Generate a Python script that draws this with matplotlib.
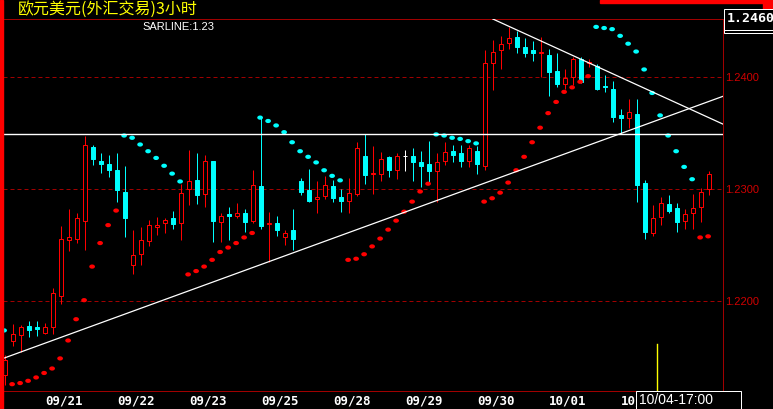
import numpy as np
import matplotlib
matplotlib.use("Agg")
import matplotlib.pyplot as plt
from matplotlib.patches import Rectangle
from matplotlib.lines import Line2D
from matplotlib.path import Path
from matplotlib.transforms import Affine2D, Bbox

# EUR/USD 3-hour bars
opens = [1.2134, 1.2165, 1.2170, 1.2178, 1.2177, 1.2172, 1.2177, 1.2205, 1.2255, 1.2256,
         1.2272, 1.2338, 1.2325, 1.2323, 1.2317, 1.2298, 1.2232, 1.2242, 1.2254, 1.2266,
         1.2270, 1.2274, 1.2270, 1.2300, 1.2308, 1.2296, 1.2325, 1.2271, 1.2278, 1.2276,
         1.2279, 1.2272, 1.2303, 1.2269, 1.2270, 1.2257, 1.2264, 1.2307, 1.2299, 1.2291,
         1.2294, 1.2303, 1.2293, 1.2290, 1.2296, 1.2330, 1.2314, 1.2314, 1.2329, 1.2317,
         1.2330, 1.2330, 1.2324, 1.2323, 1.2316, 1.2325, 1.2334, 1.2332, 1.2325, 1.2334,
         1.2321, 1.2413, 1.2424, 1.2431, 1.2436, 1.2427, 1.2424, 1.2422, 1.2420, 1.2406,
         1.2394, 1.2400, 1.2416, 1.2413, 1.2410, 1.2392, 1.2390, 1.2366, 1.2364, 1.2367,
         1.2306, 1.2261, 1.2275, 1.2287, 1.2283, 1.2272, 1.2279, 1.2284, 1.2300]
highs = [1.2152, 1.2180, 1.2179, 1.2182, 1.2182, 1.2181, 1.2212, 1.2267, 1.2282, 1.2279,
         1.2348, 1.2340, 1.2332, 1.2331, 1.2332, 1.2321, 1.2264, 1.2266, 1.2273, 1.2275,
         1.2274, 1.2281, 1.2305, 1.2335, 1.2332, 1.2331, 1.2325, 1.2279, 1.2284, 1.2288,
         1.2282, 1.2317, 1.2365, 1.2280, 1.2276, 1.2264, 1.2282, 1.2310, 1.2318, 1.2307,
         1.2312, 1.2308, 1.2300, 1.2310, 1.2342, 1.2349, 1.2339, 1.2333, 1.2330, 1.2332,
         1.2335, 1.2337, 1.2334, 1.2343, 1.2332, 1.2342, 1.2340, 1.2340, 1.2340, 1.2339,
         1.2424, 1.2433, 1.2437, 1.2445, 1.2441, 1.2435, 1.2432, 1.2436, 1.2425, 1.2422,
         1.2407, 1.2418, 1.2418, 1.2416, 1.2412, 1.2402, 1.2397, 1.2372, 1.2381, 1.2381,
         1.2308, 1.2286, 1.2293, 1.2295, 1.2288, 1.2282, 1.2296, 1.2301, 1.2316]
lows = [1.2125, 1.2160, 1.2155, 1.2168, 1.2169, 1.2171, 1.2171, 1.2198, 1.2245, 1.2252,
        1.2246, 1.2322, 1.2315, 1.2311, 1.2289, 1.2257, 1.2224, 1.2232, 1.2249, 1.2259,
        1.2261, 1.2265, 1.2255, 1.2286, 1.2287, 1.2284, 1.2253, 1.2253, 1.2255, 1.2274,
        1.2262, 1.2270, 1.2265, 1.2235, 1.2258, 1.2250, 1.2246, 1.2295, 1.2289, 1.2279,
        1.2291, 1.2289, 1.2280, 1.2279, 1.2294, 1.2305, 1.2296, 1.2307, 1.2311, 1.2309,
        1.2316, 1.2307, 1.2302, 1.2306, 1.2289, 1.2322, 1.2324, 1.2320, 1.2320, 1.2314,
        1.2317, 1.2389, 1.2407, 1.2425, 1.2422, 1.2418, 1.2415, 1.2400, 1.2383, 1.2391,
        1.2390, 1.2393, 1.2395, 1.2409, 1.2389, 1.2387, 1.2360, 1.2349, 1.2355, 1.2289,
        1.2256, 1.2258, 1.2268, 1.2279, 1.2262, 1.2265, 1.2265, 1.2271, 1.2295]
closes = [1.2148, 1.2171, 1.2177, 1.2174, 1.2175, 1.2177, 1.2207, 1.2256, 1.2257, 1.2274,
          1.2340, 1.2327, 1.2323, 1.2317, 1.2299, 1.2274, 1.2241, 1.2255, 1.2268, 1.2268,
          1.2273, 1.2269, 1.2297, 1.2307, 1.2295, 1.2325, 1.2272, 1.2276, 1.2276, 1.2279,
          1.2271, 1.2304, 1.2267, 1.2270, 1.2264, 1.2261, 1.2256, 1.2298, 1.2290, 1.2293,
          1.2304, 1.2292, 1.2290, 1.2297, 1.2337, 1.2313, 1.2315, 1.2327, 1.2317, 1.2330,
          1.2330, 1.2324, 1.2321, 1.2316, 1.2324, 1.2333, 1.2331, 1.2325, 1.2337, 1.2323,
          1.2413, 1.2423, 1.2430, 1.2435, 1.2427, 1.2422, 1.2422, 1.2423, 1.2405, 1.2394,
          1.2399, 1.2416, 1.2396, 1.2414, 1.2390, 1.2391, 1.2365, 1.2364, 1.2369, 1.2304,
          1.2262, 1.2274, 1.2288, 1.2281, 1.2271, 1.2278, 1.2283, 1.2298, 1.2314]

# parabolic SAR, one value per bar
sar = [1.2174,
       1.2126, 1.2127, 1.2129, 1.2132, 1.2136, 1.2140, 1.2149, 1.2165, 1.2184, 1.2201, 1.2231,
       1.2252, 1.2268, 1.2281,
       1.2348, 1.2346, 1.2340, 1.2334, 1.2328, 1.2321, 1.2314, 1.2307,
       1.2224, 1.2227, 1.2231, 1.2237, 1.2244, 1.2248, 1.2252, 1.2257, 1.2261,
       1.2364, 1.2361, 1.2357, 1.2351, 1.2342, 1.2334, 1.2329, 1.2324, 1.2317, 1.2312, 1.2308,
       1.2237, 1.2238, 1.2242, 1.2249, 1.2256, 1.2264, 1.2272, 1.2280, 1.2289, 1.2298, 1.2305,
       1.2349, 1.2348, 1.2346, 1.2345, 1.2343, 1.2341,
       1.2289, 1.2292, 1.2297, 1.2306, 1.2317, 1.2329, 1.2342, 1.2355, 1.2368, 1.2378, 1.2387,
       1.2391, 1.2396, 1.2401,
       1.2445, 1.2444, 1.2443, 1.2437, 1.2430, 1.2423, 1.2407, 1.2386, 1.2366, 1.2348, 1.2334,
       1.2320, 1.2309,
       1.2257, 1.2258]

date_ticks = [5, 14, 23, 32, 41, 50, 59, 68, 77]
date_labels = ["09/21", "09/22", "09/23", "09/25", "09/28", "09/29", "09/30", "10/01", "10/02"]
price_ticks = [1.2200, 1.2300, 1.2400]

# hand drawn lines: (bar index, price) anchor pairs
support_line = [(0, 1.21497), (89, 1.23812)]
resist_line = [(62, 1.24486), (89, 1.23605)]
flat_line = 1.2349
cursor_bar = 81.5

title = "欧元美元(外汇交易)3小时"
sar_text = "SARLINE:1.23"
last_price = "1.2460"
cursor_time = "10/04-17:00"

RED = "#FF0000"
DARKRED = "#A00000"
CYAN = "#00FFFF"

W, H = 773, 409
fig = plt.figure(figsize=(W / 100, H / 100), dpi=100, facecolor="black")
ax = fig.add_axes([3 / W, 1 - 391 / H, 720 / W, 372 / H])
ax.set_facecolor("black")

o = np.array(opens)
c = np.array(closes)
x = np.arange(len(o))
up = c > o
down = c < o
edge = np.where(up, RED, np.where(down, CYAN, "white"))
face = np.where(up, "black", np.where(down, CYAN, "white"))

lw = 0.72
ax.vlines(x, lows, highs, colors=edge, linewidth=lw, zorder=2)
ax.bar(x, np.abs(c - o), bottom=np.minimum(o, c), width=0.52,
       color=face, edgecolor=edge, linewidth=lw, zorder=3)

# SAR dots as small flat ellipses
ell = Path.unit_circle().transformed(Affine2D().scale(1.35, 1.0))
s = np.array(sar)
sar_col = np.where(s > c, CYAN, RED)
ax.scatter(x - 0.15, s, s=17, marker=ell, c=sar_col, linewidths=0, zorder=4)

ax.axhline(flat_line, color="white", linewidth=1.0, zorder=5)
ax.axline(*support_line, color="white", linewidth=0.9, zorder=5)
ax.axline(*resist_line, color="white", linewidth=0.9, zorder=5)
ax.axvline(cursor_bar, ymin=0, ymax=47 / 372, color="#FFFF00", linewidth=1.0, zorder=5)

ax.set_xlim(-0.2875, 89.71)
ax.set_ylim(1.2119911, 1.2452054)

ax.yaxis.tick_right()
ax.set_yticks(price_ticks, [f"{v:.4f}" for v in price_ticks])
ax.yaxis.grid(True, color=DARKRED, linestyle=(0, (4, 3)), linewidth=lw)
ax.tick_params(axis="y", length=0, pad=1.5, labelcolor="#D00000", labelsize=8)
for t in ax.get_yticklabels():
    t.set_fontfamily("Liberation Sans")

ax.set_xticks(date_ticks, date_labels)
ax.tick_params(axis="x", length=0, pad=2.5, labelcolor="white", labelsize=9)
# the last date label sits under the cursor time box; only its left part shows
label_clip = Bbox.from_extents(0, 0, 636, H)
for t in ax.get_xticklabels():
    t.set_fontfamily("DejaVu Sans Mono")
    t.set_fontweight("bold")
    t.set_horizontalalignment("left")
    t.set_clip_box(label_clip)
    t.set_clip_on(True)

ax.spines["left"].set_visible(False)
for side in ["top", "bottom", "right"]:
    ax.spines[side].set_color(DARKRED)
    ax.spines[side].set_linewidth(lw)

# frame pieces
fig.add_artist(Rectangle((0, 0), 3 / W, 1, transform=fig.transFigure,
                         color=RED, zorder=6))
fig.add_artist(Rectangle((600 / W, 1 - 2.5 / H), 173 / W, 2.5 / H, transform=fig.transFigure,
                         color=RED, zorder=6))
fig.add_artist(Rectangle((763 / W, 1 - 9 / H), 10 / W, 9 / H, transform=fig.transFigure,
                         color=RED, zorder=6))

# last price box
fig.add_artist(Rectangle((724 / W, 1 - 33 / H), 60 / W, 24 / H, transform=fig.transFigure,
                         facecolor="black", edgecolor="white", linewidth=lw, zorder=7))
fig.add_artist(Line2D([724 / W, 1], [1 - 30 / H] * 2, color="white", linewidth=lw, zorder=8))
fig.text(726.5 / W, 1 - 18 / H, last_price, color="white", fontsize=9.5,
         family="DejaVu Sans Mono", weight="bold", va="center", ha="left", zorder=8)

# cursor time box
fig.add_artist(Rectangle((636 / W, -0.01), 104.5 / W, 18 / H + 0.01, transform=fig.transFigure,
                         facecolor="black", edgecolor="white", linewidth=lw, zorder=7))
fig.text(638.5 / W, 1 - 400 / H, cursor_time, color="white", fontsize=10,
         family="Liberation Sans", va="center", ha="left", zorder=8)

fig.text(18 / W, 1 - 9 / H, title, color="#FFFF00", fontsize=11.5,
         family=["Noto Sans CJK SC", "DejaVu Sans"], va="center", ha="left")
fig.text(142.5 / W, 1 - 26.5 / H, sar_text, color="white", fontsize=8,
         family="Liberation Sans", va="center", ha="left")

fig.savefig("out.png", dpi=100, facecolor="black")
